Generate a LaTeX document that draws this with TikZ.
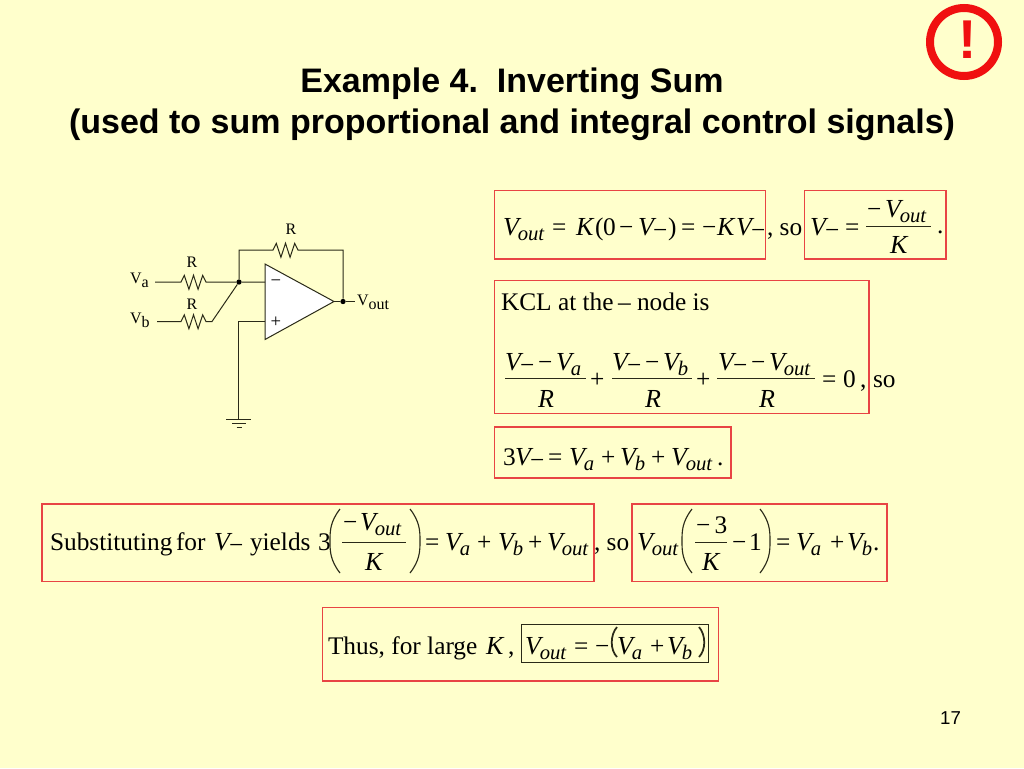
\documentclass[tikz,border=0pt]{standalone}
\usepackage{fontspec}
\setmainfont{Liberation Serif}
\setsansfont{Liberation Sans}
\newcounter{tn}
\definecolor{bg}{HTML}{FFFFCC}
\definecolor{boxred}{HTML}{E84444}
\definecolor{alarm}{HTML}{F01010}
\definecolor{wire}{HTML}{2A2A18}
\newcommand\tx[3]{\stepcounter{tn}\node[txt] (t\arabic{tn}) at (#1,#2) {#3};}
\newcommand\mainf{\fontsize{19}{21}\selectfont}
\newcommand\mathf{\fontsize{19.5}{21}\selectfont\itshape}
\newcommand\subf{\fontsize{15.5}{17}\selectfont\itshape}
\newcommand\mV[1]{{\mathf V}\kern-0.8pt\raisebox{-4.4pt}{\subf #1}}
\newcommand\Vm{{\mathf V}\kern-0.6pt\raisebox{-2.6pt}{\fontsize{19}{20}\selectfont −}}
\newcommand\mK{{\mathf K}}
\newcommand\mR{{\mathf R}}
\newcommand\cV[1]{V\raisebox{-3pt}{#1}}
\tikzset{
  txt/.style={anchor=base west,inner sep=0pt,outer sep=0pt,font=\mainf},
  small/.style={anchor=base west,inner sep=0pt,outer sep=0pt,font=\fontsize{12}{13}\selectfont},
  redbox/.style={draw=boxred,line width=0.8pt},
  fracbar/.style={draw=wire,line width=0.7pt},
  paren/.style={draw=wire,line width=0.85pt},
  circ/.style={draw=wire,line width=0.75pt,line join=miter},
  dotn/.style={circle,fill=black,inner sep=0pt,minimum size=4pt}
}
\newcommand\lpar[4]{\draw[paren] (#2,#3) .. controls (#1,{#3+(#4-#3)*0.2}) and (#1,{#3+(#4-#3)*0.35}) .. (#1,{(#3+#4)/2}) .. controls (#1,{#3+(#4-#3)*0.65}) and (#1,{#3+(#4-#3)*0.8}) .. (#2,#4);}
\newcommand\zz{-- ++(3.3,-6.7) -- ++(4.6,14) -- ++(4.6,-14) -- ++(4.6,14) -- ++(4.6,-14) -- ++(3.3,6.7)}
\begin{document}
\begin{tikzpicture}[x=0.75pt,y=-0.75pt]
\useasboundingbox (0,0) rectangle (1024,768);
\fill[bg] (0,0) rectangle (1024,768);

% alert
\draw[alarm,line width=6pt] (964,42) circle (34);
\node[inner sep=0pt,text=alarm,font=\sffamily\bfseries\fontsize{41}{41}\selectfont] (bang) at (968,40) {!};

% title
\node[inner sep=0pt,anchor=base,font=\sffamily\bfseries\fontsize{25.5}{27}\selectfont] (title1) at (512,92) {Example 4.\ \ Inverting Sum};
\node[inner sep=0pt,anchor=base,font=\sffamily\bfseries\fontsize{25.5}{27}\selectfont] (title2) at (512,133) {(used to sum proportional and integral control signals)};
\node[inner sep=0pt,anchor=base,font=\sffamily\fontsize{14}{15}\selectfont] (page) at (950.5,724) {17};

% boxes
\draw[redbox] (494.5,190.5) rectangle (765.5,259);
\draw[redbox] (804.5,190.5) rectangle (946,259);
\draw[redbox] (494.5,280.5) rectangle (869,413.5);
\draw[redbox] (494.5,427) rectangle (731,478);
\draw[redbox] (42,504) rectangle (594,581.5);
\draw[redbox] (632,504) rectangle (887,581.5);
\draw[redbox] (322.5,607.5) rectangle (718.5,681);
\draw[draw=wire,line width=0.75pt] (521,624) rectangle (708,662.5);

% box 1
\tx{503}{235}{\mV{out}}
\tx{552}{235}{=}
\tx{576}{235}{\mK}
\tx{595}{235}{(}
\tx{603}{235}{0}
\tx{619}{235}{−}
\tx{638}{235}{\Vm}
\tx{668}{235}{)}
\tx{681}{235}{=}
\tx{702}{235}{−}
\tx{717}{235}{\mK}
\tx{736}{235}{\Vm}
\tx{767}{235}{, so}
% box 2
\tx{810}{235}{\Vm}
\tx{845}{235}{=}
\tx{867}{217}{−}
\tx{885}{217}{\mV{out}}
\draw[fracbar] (866,226) -- (931,226);
\tx{890}{253}{\mK}
\tx{937}{233}{.}
% box 3
\tx{501}{310}{KCL at the}
\tx{618}{310}{–}
\tx{637}{310}{node is}
\tx{505}{370}{\Vm}
\tx{538}{370}{−}
\tx{556}{370}{\mV{a}}
\draw[fracbar] (505,378) -- (586,378);
\tx{538}{407}{\mR}
\tx{590}{387}{+}
\tx{612}{370}{\Vm}
\tx{645}{370}{−}
\tx{663}{370}{\mV{b}}
\draw[fracbar] (612,378) -- (692,378);
\tx{645}{407}{\mR}
\tx{696}{387}{+}
\tx{718}{370}{\Vm}
\tx{751}{370}{−}
\tx{769}{370}{\mV{out}}
\draw[fracbar] (717,378) -- (815,378);
\tx{759}{407}{\mR}
\tx{822}{387}{=}
\tx{843}{387}{0}
\tx{860}{387}{,}
\tx{873}{387}{so}
% box 4
\tx{503}{465}{3}
\tx{515}{465}{\Vm}
\tx{548}{465}{=}
\tx{569}{465}{\mV{a}}
\tx{601}{465}{+}
\tx{620}{465}{\mV{b}}
\tx{651}{465}{+}
\tx{671}{465}{\mV{out}}
\tx{717}{465}{.}
% box 5
\tx{50}{550}{Substituting}
\tx{176}{550}{for}
\tx{214}{550}{\Vm}
\tx{250}{550}{yields}
\tx{318}{550}{3}
\lpar{330}{340}{509}{573}
\tx{343}{530}{−}
\tx{360}{530}{\mV{out}}
\draw[fracbar] (342,542) -- (406,542);
\tx{365}{570}{\mK}
\lpar{420}{410}{509}{573}
\tx{425}{550}{=}
\tx{445}{550}{\mV{a}}
\tx{477}{550}{+}
\tx{498}{550}{\mV{b}}
\tx{528}{550}{+}
\tx{547}{550}{\mV{out}}
\tx{594}{550}{, so}
% box 6
\tx{637}{550}{\mV{out}}
\lpar{682}{692}{509}{573}
\tx{696}{533}{−\,3}
\draw[fracbar] (695,542) -- (727,542);
\tx{702}{570}{\mK}
\tx{732}{550}{−}
\tx{749}{550}{1}
\lpar{770}{760}{509}{573}
\tx{776}{550}{=}
\tx{796}{550}{\mV{a}}
\tx{830}{550}{+}
\tx{847}{550}{\mV{b}}
\tx{873}{550}{.}
% box 7
\tx{328}{654}{Thus, for large}
\tx{486}{654}{\mK}
\tx{508}{654}{,}
\tx{525}{654}{\mV{out}}
\tx{574}{654}{=}
\tx{595}{654}{−}
\draw[paren,line width=1.3pt] (617,627) .. controls (610,635) and (610,650) .. (617,657);
\tx{617}{654}{\mV{a}}
\tx{650}{654}{+}
\tx{667}{654}{\mV{b}}
\draw[paren,line width=1.3pt] (699,627) .. controls (706,635) and (706,650) .. (699,657);

% circuit
\coordinate (va) at (155,282);
\coordinate (vb) at (157,321.5);
\coordinate (ra1) at (181,282);
\coordinate (rb1) at (181,321.5);
\coordinate (rb3) at (212,321.5);
\coordinate (rf1) at (273,250);
\coordinate (ntop) at (239,250);
\coordinate (otop) at (343,250);
\coordinate (inm) at (265,282);
\coordinate (inp) at (265,321.5);
\coordinate (pdown) at (238.5,321.5);
\coordinate (gnd) at (238.5,419);
\coordinate (oend) at (355,301.5);
\coordinate (tA) at (265,264);
\coordinate (tB) at (265,339.5);
\coordinate (tC) at (334,301.5);
\node[dotn] (nsum) at (239,282) {};
\node[dotn] (nout) at (343,301.5) {};
\filldraw[circ,fill=white] (tA) -- (tC) -- (tB) -- cycle;
\draw[circ] (va) -- (ra1) \zz -- (nsum) -- (inm);
\draw[circ] (vb) -- (rb1) \zz -- (rb3) -- (nsum);
\draw[circ] (nsum) -- (ntop) -- (rf1) \zz -- (otop) -- (nout);
\draw[circ] (tC) -- (nout) -- (oend);
\draw[circ] (inp) -- (pdown) -- (gnd);
\coordinate (g1a) at (226,419); \coordinate (g1b) at (251,419);
\coordinate (g2a) at (232,423); \coordinate (g2b) at (246,423);
\coordinate (g3a) at (236.5,427); \coordinate (g3b) at (242,427);
\draw[circ] (g1a) -- (g1b);
\draw[circ] (g2a) -- (g2b);
\draw[circ] (g3a) -- (g3b);
\node[small,anchor=base] (lr1) at (291,234) {R};
\node[small,anchor=base] (lr2) at (192,267) {R};
\node[small,anchor=base] (lr3) at (192,309) {R};
\node[small] (lva) at (130,283) {\cV{a}};
\node[small] (lvb) at (130,323) {\cV{b}};
\node[small] (lvo) at (357,305) {\cV{out}};
\node[small,anchor=center,font=\fontsize{14}{14}\selectfont] (lm) at (276,283) {−};
\node[small,anchor=center,font=\fontsize{14}{14}\selectfont] (lp) at (276,322) {+};
\end{tikzpicture}
\end{document}
